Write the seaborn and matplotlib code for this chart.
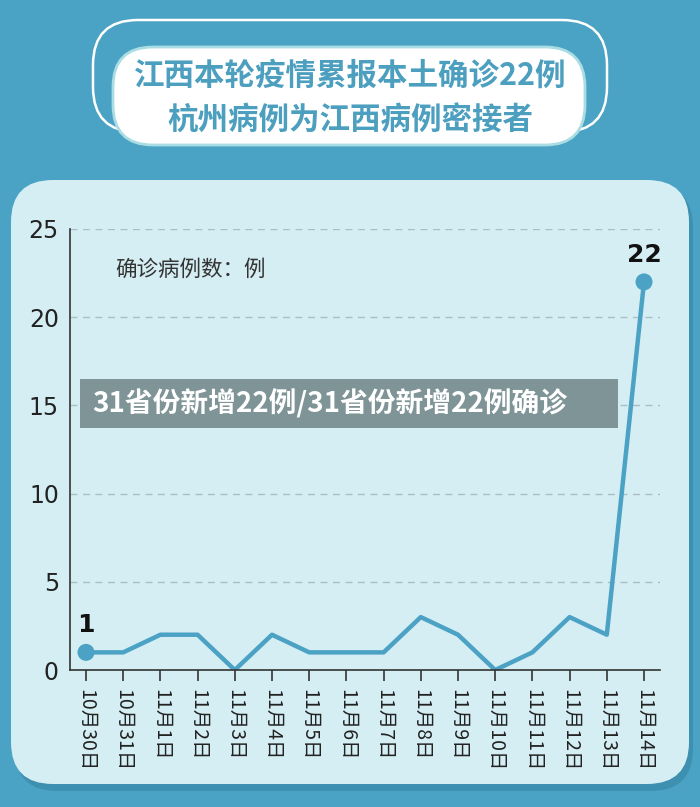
import matplotlib
matplotlib.use('Agg')
import matplotlib.pyplot as plt
import seaborn as sns
import pandas as pd
from matplotlib.patches import FancyBboxPatch, Rectangle

# data
dates = ['10月30日', '10月31日', '11月1日', '11月2日', '11月3日', '11月4日', '11月5日',
         '11月6日', '11月7日', '11月8日', '11月9日', '11月10日', '11月11日', '11月12日',
         '11月13日', '11月14日']
cases = [1, 1, 2, 2, 0, 2, 1, 1, 1, 3, 2, 0, 1, 3, 2, 22]
y_ticks = [0, 5, 10, 15, 20, 25]
title_lines = ['江西本轮疫情累报本土确诊22例', '杭州病例为江西病例密接者']
unit_label = '确诊病例数：例'
banner_text = '31省份新增22例/31省份新增22例确诊'

sns.set_theme(style='white')
plt.rcParams['font.family'] = ['Noto Sans CJK SC', 'DejaVu Sans']

BG = '#4aa3c4'
CARD = '#d4eef3'
LINE = '#4ba2c4'
TITLE = '#4c9fbf'

df = pd.DataFrame({'idx': range(len(dates)), 'cases': cases})

fig = plt.figure(figsize=(7.0, 8.07), dpi=100)
fig.patch.set_facecolor(BG)

# background layer in pixel coordinates
bg = fig.add_axes([0, 0, 1, 1], zorder=0)
bg.set_xlim(0, 700)
bg.set_ylim(807, 0)
bg.axis('off')

# outer outline of the title box
bg.add_patch(FancyBboxPatch((93, 20), 514, 112, boxstyle='round,pad=0,rounding_size=45',
                            facecolor='none', edgecolor='white', linewidth=1.8))
# inner title box
bg.add_patch(FancyBboxPatch((113, 47), 472, 98, boxstyle='round,pad=0,rounding_size=40',
                            facecolor='white', edgecolor='#a9dde3', linewidth=2))
bg.text(350, 76, title_lines[0], ha='center', va='center', fontsize=22,
        fontweight='bold', color=TITLE)
bg.text(350, 121, title_lines[1], ha='center', va='center', fontsize=22,
        fontweight='bold', color=TITLE)

# card with a soft shadow
bg.add_patch(FancyBboxPatch((15, 185), 678, 606, boxstyle='round,pad=0,rounding_size=42',
                            facecolor='#3b8cab', edgecolor='none', alpha=0.8))
bg.add_patch(FancyBboxPatch((11, 180), 678, 604, boxstyle='round,pad=0,rounding_size=42',
                            facecolor=CARD, edgecolor='none'))
bg.text(115, 270, unit_label, ha='left', va='center', fontsize=15.5, color='#333333')

# main chart
ax = fig.add_axes([70 / 700, 1 - 670 / 807, 590 / 700, 441 / 807], zorder=2)
ax.patch.set_alpha(0)
sns.lineplot(data=df, x='idx', y='cases', ax=ax, color=LINE, linewidth=3.2)
ends = df.iloc[[0, -1]]
sns.scatterplot(data=ends, x='idx', y='cases', ax=ax, color=LINE, s=150,
                edgecolor='none', zorder=5)
for _, r in ends.iterrows():
    ax.text(r['idx'], r['cases'] + 0.85, str(int(r['cases'])), ha='center', va='bottom',
            fontsize=18, fontweight='bold', color='#111111', family='DejaVu Sans')

ax.set_xlim(-0.43, 15.43)
ax.set_ylim(0, 25)
ax.set_yticks(y_ticks)
ax.set_yticklabels([str(v) for v in y_ticks], fontsize=17, color='#222222',
                   family='DejaVu Sans')
ax.set_xticks(list(df['idx']))
ax.set_xticklabels(dates, rotation=270, fontsize=14, color='#222222', ha='center', va='top')
ax.tick_params(axis='x', direction='out', length=8, width=1.2, color='#333333', pad=6,
               bottom=True)
ax.tick_params(axis='y', length=0, pad=8)
for v in y_ticks[1:]:
    ax.axhline(v, color='#a9bfc4', linestyle=(0, (5, 4)), linewidth=1, zorder=0)
for s in ['top', 'right']:
    ax.spines[s].set_visible(False)
for s in ['left', 'bottom']:
    ax.spines[s].set_color('#333333')
    ax.spines[s].set_linewidth(1.2)
ax.set_xlabel('')
ax.set_ylabel('')
ax.grid(False)

# overlay banner
top = fig.add_axes([0, 0, 1, 1], zorder=10)
top.set_xlim(0, 700)
top.set_ylim(807, 0)
top.axis('off')
top.patch.set_alpha(0)
top.add_patch(Rectangle((80, 379), 538, 49, facecolor='#7f9497', edgecolor='none'))
top.text(92, 404, banner_text, ha='left', va='center', fontsize=20,
         fontweight='bold', color='white')

fig.savefig('out.png', dpi=100, facecolor=BG)
